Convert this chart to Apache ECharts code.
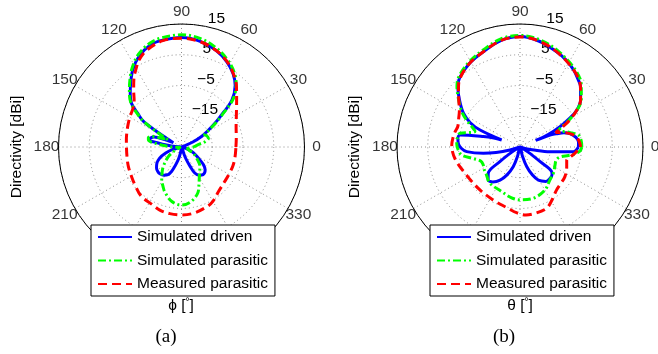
<!DOCTYPE html>
<html>
<head>
<meta charset="utf-8">
<script src="https://cdn.jsdelivr.net/npm/echarts@6/dist/echarts.min.js"></script>
<style>
  html, body { margin: 0; padding: 0; background: #fff; }
  #chart { width: 658px; height: 354px; }
</style>
</head>
<body>
<div id="chart"></div>
<script>
// radial scale of the plots (dBi), the centre of each plot is the floor
const dbFloor = -25;
const dbTop = 15;
const angleTicks = [0, 30, 60, 90, 120, 150, 180, 210, 240, 270, 300, 330];
const seriesNames = ['Simulated driven', 'Simulated parasitic', 'Measured parasitic'];

// (a) phi cut
const aDrivenAng = [0, 15, 20, 24, 28, 31, 35, 38, 43, 49, 55, 62, 70, 80, 90, 100, 107, 115, 122, 128, 134, 139, 143, 146, 148, 150, 152, 156, 160, 164, 168, 170, 173, 176, 180, 190, 195, 201, 207, 214, 220, 226, 231, 238, 244, 248, 251, 255, 258, 262, 266, 286, 289, 291, 294, 297, 302, 308, 316, 321, 325, 331, 337, 342, 348, 360];
const aDrivenDb  = [-25, -25, -24, -20.8, -17.5, -15.4, -12, -9.1, -2.6, 1.6, 4.2, 6.4, 8.3, 9.9, 10.6, 10.3, 9.7, 7.6, 4.8, 1.8, -1, -3.5, -7.5, -10, -15.5, -20, -22, -19, -15.5, -14.5, -14.3, -17, -20.5, -23, -25, -25, -22, -19.5, -17, -15.3, -14.4, -13.9, -13.8, -14.2, -15, -16.5, -18.4, -20.5, -22, -24, -25, -25, -22.5, -20.6, -18, -15.5, -14.2, -13.6, -14.3, -15.8, -17.7, -19.8, -21.5, -23.5, -25, -25];

const aSimParAng = [0, 8, 13, 18, 24, 28, 31, 35, 38, 43, 49, 55, 62, 70, 80, 90, 100, 107, 115, 122, 128, 134, 139, 143, 146, 148, 150, 152, 156, 160, 164, 168, 172, 176, 180, 186, 195, 205, 216, 227, 233, 239, 245, 250, 260, 270, 280, 290, 296, 303, 313, 322, 332, 345, 352, 360];
const aSimParDb  = [-21, -19.5, -17, -15.8, -16, -16.5, -15, -11.5, -8.5, -2, 2.1, 4.8, 7, 9, 10.8, 11.5, 11.1, 10.3, 8.2, 5.3, 2.3, -0.6, -3.2, -7, -10, -14.5, -18, -20, -18, -15, -13.8, -14, -16.5, -20, -22, -24, -24.5, -23, -19.7, -16.3, -14.5, -12.5, -10.8, -9.3, -7, -6.1, -7, -9.3, -12, -14.3, -16.2, -18.5, -20.6, -23, -22.5, -21];

const aMeasParAng = [0, 10, 20, 30, 40, 48, 55, 62, 70, 80, 90, 100, 110, 116, 120, 125, 130, 136, 142, 150, 158, 165, 172, 180, 190, 200, 211, 220, 231, 243, 251, 260, 270, 280, 293, 300, 310, 321, 330, 340, 350, 360];
const aMeasParDb  = [-7.3, -6.9, -6.1, -4.4, -1.6, 1.7, 4.3, 6.5, 8.3, 9.8, 10.4, 10.1, 8.4, 6.5, 4.5, 2, -0.8, -3.6, -4.9, -5.6, -6.2, -6.6, -6.9, -7.1, -7, -6.6, -6.1, -5.4, -4.3, -4, -3.3, -3, -2.9, -3.1, -3.9, -4.6, -6.2, -7, -7.2, -7.2, -7.3, -7.3];

// (b) theta cut
const bDrivenAng = [0, 5, 10, 15, 18, 20, 21.8, 22.7, 24, 27, 30, 33, 38, 45, 49, 55, 62, 69, 80, 90, 100, 111, 121, 131, 136, 142, 149, 154, 157, 159, 161, 164, 168.7, 172, 176.6, 181, 185, 189.8, 193, 196.7, 200, 210, 212, 216, 220, 226, 232, 239, 245, 251, 255, 259, 281, 285, 289, 294, 299, 307, 314, 319, 322, 324, 328, 332, 340, 344, 347, 351, 355, 360];
const bDrivenDb  = [-6, -5.9, -6.6, -8.2, -10, -12.5, -14.5, -19.5, -15, -10.4, -6.5, -3, 0, 2.8, 3.9, 5.5, 7, 8.2, 10, 10.9, 10.2, 8.2, 6.8, 4.9, 3.1, 0, -3.5, -7, -10.9, -18.6, -16, -12.6, -5.1, -4.6, -4.9, -5.8, -7.6, -12.9, -17, -21.6, -25, -25, -22, -17, -11.5, -10.1, -10.6, -12.4, -15, -18.2, -22, -25, -25, -22, -18.2, -15, -12.7, -11, -10.9, -11.2, -11.9, -17, -22, -25, -25, -23, -21, -15.1, -7.6, -6];

const bSimParAng = [0, 6, 11.6, 15, 19.5, 22, 25, 28, 33, 38, 45, 55, 69, 80, 90, 100, 111, 121, 131, 136, 142, 149, 154, 158, 161, 164, 167, 172, 177, 182, 188, 194, 200, 206, 213, 220, 230, 248, 260, 270, 285, 300, 312, 322, 333, 340, 346, 350, 352, 356, 360];
const bSimParDb  = [-4.9, -5, -5.6, -7.5, -10, -12, -10.5, -7.5, -2.8, 0.3, 3.2, 6, 8.7, 10.5, 11.3, 10.7, 8.7, 7.2, 5.3, 3.5, 0.4, -3, -6, -8.5, -9.5, -8, -5, -4.4, -4.4, -4.8, -5.9, -9.4, -11.5, -11.7, -11.2, -10.8, -9.7, -9.3, -8.3, -7.8, -7.8, -8.8, -10.5, -11.2, -12.2, -12.5, -11.6, -9, -7.5, -5.5, -4.9];

const bMeasParAng = [0, 3.5, 10, 15, 19, 22, 25, 28, 33, 38, 45, 55, 69, 80, 90, 100, 111, 121, 131, 136, 142, 149, 155, 162, 167, 172, 178, 184, 190, 197, 205.6, 215, 227, 235, 243, 251, 259, 267, 275, 284, 293.5, 300, 310, 318, 326.6, 337, 344, 349, 353.5, 360];
const bMeasParDb  = [-5.3, -5.5, -6.3, -8.2, -10.5, -12.5, -10, -7, -3, 0, 2.8, 5.5, 8.2, 10, 10.8, 10.2, 8.2, 6.8, 4.7, 2.8, 0.3, -2, -3, -3.7, -3.3, -3, -2.8, -3, -3.5, -4.3, -5.2, -5.7, -5.9, -5.9, -5.7, -5.3, -4.7, -3.6, -2.8, -2.9, -3.3, -4.6, -6.6, -7.2, -7.5, -8.5, -9.2, -8.3, -7, -5.3];

const font = 'Liberation Sans';
const plotRadius = 123;
const centers = [[181.5, 147], [520, 147]];
// angle labels sit centred a bit outside the rim (in radius units, rim = 40)
const angleLabelRadius = 43.9;

// polar line series wants [radius, angle]; radius measured from the floor
function toPolar(angles, dbs) {
    return angles.map((a, i) => [Math.max(dbs[i], dbFloor) - dbFloor, a]);
}

const styles = [
    { color: '#0000ff', width: 3, type: 'solid' },
    { color: '#00ff00', width: 3, type: [8, 3, 2, 3] },
    { color: '#ff0000', width: 3, type: [9, 5] }
];

function makeSeries(polarIndex, sets) {
    return sets.map((s, i) => ({
        name: seriesNames[i],
        type: 'line',
        coordinateSystem: 'polar',
        polarIndex: polarIndex,
        symbol: 'none',
        smooth: 0.35,
        animation: false,
        lineStyle: { color: styles[i].color, width: styles[i].width, type: styles[i].type, cap: 'butt' },
        itemStyle: { color: styles[i].color },
        data: toPolar(s[0], s[1])
    }));
}

// centred angle tick labels, MATLAB style
function angleLabels(polarIndex) {
    return {
        type: 'scatter',
        coordinateSystem: 'polar',
        polarIndex: polarIndex,
        clip: false,
        silent: true,
        symbolSize: 0,
        animation: false,
        data: angleTicks.map(a => [angleLabelRadius, a]),
        label: {
            show: true, position: 'inside',
            color: '#000', fontSize: 15.5, fontFamily: font,
            formatter: p => String(p.value[1])
        }
    };
}

const dotted = { color: '#8c8c8c', width: 1, type: [1, 3] };

const polar = [];
const angleAxis = [];
const radiusAxis = [];
centers.forEach((c, k) => {
    // main grid
    polar.push({ center: c, radius: plotRadius });
    angleAxis.push({
        polarIndex: 2 * k,
        type: 'value', min: 0, max: 360, interval: 30,
        startAngle: 0, clockwise: false,
        axisLine: { lineStyle: { color: '#000', width: 1 } },
        axisTick: { show: false },
        axisLabel: { show: false },
        splitLine: { lineStyle: dotted }
    });
    radiusAxis.push({
        polarIndex: 2 * k,
        type: 'value', min: 0, max: dbTop - dbFloor, interval: 10,
        axisLine: { show: false }, axisTick: { show: false },
        axisLabel: { show: false },
        splitLine: { lineStyle: dotted }
    });
    // second polar only for the dB labels along 80 degrees
    polar.push({ center: c, radius: plotRadius });
    angleAxis.push({
        polarIndex: 2 * k + 1,
        type: 'value', min: 0, max: 360, startAngle: 80, clockwise: false,
        show: false
    });
    radiusAxis.push({
        polarIndex: 2 * k + 1,
        type: 'value', min: 0, max: dbTop - dbFloor, interval: 10,
        axisLine: { show: false }, axisTick: { show: false }, splitLine: { show: false },
        axisLabel: {
            margin: -5, align: 'left', verticalAlign: 'bottom',
            color: '#000', fontSize: 15.5, fontFamily: font,
            formatter: v => v === 0 ? '' : String(v + dbFloor).replace('-', '\u2212')
        }
    });
});

const series = [
    ...makeSeries(0, [[aDrivenAng, aDrivenDb], [aSimParAng, aSimParDb], [aMeasParAng, aMeasParDb]]),
    ...makeSeries(2, [[bDrivenAng, bDrivenDb], [bSimParAng, bSimParDb], [bMeasParAng, bMeasParDb]]),
    angleLabels(0),
    angleLabels(2)
];

const legendBase = {
    orient: 'vertical',
    top: 225,
    backgroundColor: '#fff',
    borderColor: '#000',
    borderWidth: 1,
    borderRadius: 0,
    padding: [4, 7, 4, 6],
    itemGap: 7.5,
    itemWidth: 34,
    itemHeight: 14,
    selectedMode: false,
    z: 10,
    // hide the marker circle, keep only the line sample
    itemStyle: { color: 'rgba(0,0,0,0)', borderWidth: 0, opacity: 0 },
    textStyle: { color: '#000', fontSize: 15.5, fontFamily: font },
    data: seriesNames
};

const chart = echarts.init(document.getElementById('chart'), null, { renderer: 'canvas' });

chart.setOption({
    animation: false,
    backgroundColor: '#fff',
    polar: polar,
    angleAxis: angleAxis,
    radiusAxis: radiusAxis,
    legend: [
        Object.assign({}, legendBase, { left: 91 }),
        Object.assign({}, legendBase, { left: 430 })
    ],
    graphic: [
        { type: 'text', x: 17, y: 147, rotation: Math.PI / 2,
          style: { text: 'Directivity [dBi]', font: '15.5px "Liberation Sans"', fill: '#000', align: 'center', verticalAlign: 'middle' } },
        { type: 'text', x: 355, y: 147, rotation: Math.PI / 2,
          style: { text: 'Directivity [dBi]', font: '15.5px "Liberation Sans"', fill: '#000', align: 'center', verticalAlign: 'middle' } },
        { type: 'text', x: 181, y: 306,
          style: { text: '{n|\u03d5 [}{d|\u00b0}{n|]}', align: 'center', verticalAlign: 'middle',
                   rich: { n: { fontSize: 15.5, fontFamily: font, fill: '#000', lineHeight: 18 },
                           d: { fontSize: 10, fontFamily: font, fill: '#000', verticalAlign: 'top', lineHeight: 8 } } } },
        { type: 'text', x: 520, y: 306,
          style: { text: '{n|\u03b8 [}{d|\u00b0}{n|]}', align: 'center', verticalAlign: 'middle',
                   rich: { n: { fontSize: 15.5, fontFamily: font, fill: '#000', lineHeight: 18 },
                           d: { fontSize: 10, fontFamily: font, fill: '#000', verticalAlign: 'top', lineHeight: 8 } } } },
        { type: 'text', x: 166, y: 337,
          style: { text: '(a)', font: '19px "Liberation Serif"', fill: '#000', align: 'center', verticalAlign: 'middle' } },
        { type: 'text', x: 504, y: 337,
          style: { text: '(b)', font: '19px "Liberation Serif"', fill: '#000', align: 'center', verticalAlign: 'middle' } }
    ],
    series: series
});
</script>
</body>
</html>
